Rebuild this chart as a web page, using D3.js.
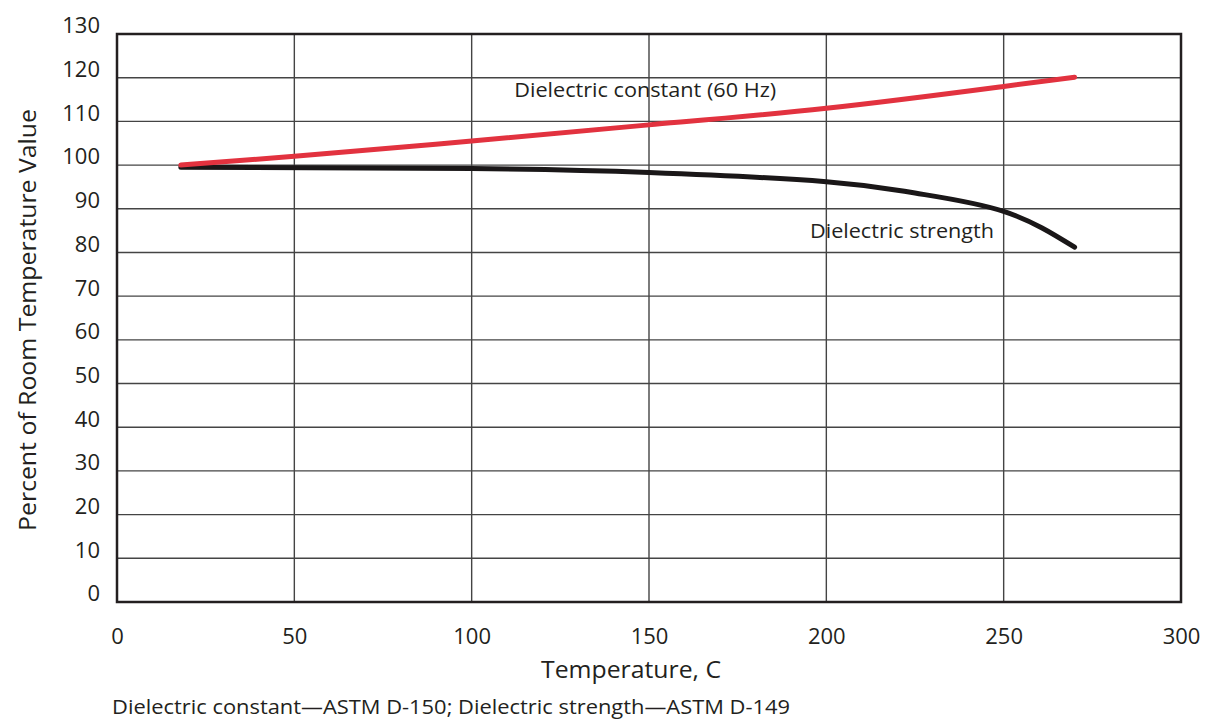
<!DOCTYPE html>
<html>
<head>
<meta charset="utf-8">
<script src="https://cdn.jsdelivr.net/npm/d3@7"></script>
<style>
  body { margin: 0; background: #fff; }
  text { font-family: "Open Sans", "Noto Sans", sans-serif; fill: #231f20; }
</style>
</head>
<body>
<svg id="chart" width="1205" height="720"></svg>
<script>
// temperature (C) vs percent of room temperature value
const constTemp = [18, 50, 100, 150, 200, 250, 270]
const constVal = [100, 102, 105.5, 109.2, 113, 118, 120.1]
const strengthTemp = [18, 100, 150, 200, 225, 250, 270]
const strengthVal = [99.5, 99.2, 98.3, 96.2, 93.6, 89.4, 81.2]
const xTicks = [0, 50, 100, 150, 200, 250, 300]
const yTicks = [0, 10, 20, 30, 40, 50, 60, 70, 80, 90, 100, 110, 120, 130]

const margin = {top: 34, right: 24, bottom: 118, left: 117}
const width = 1205 - margin.left - margin.right
const height = 720 - margin.top - margin.bottom

const svg = d3.select('#chart')
const g = svg.append('g')
    .attr('transform', `translate(${margin.left},${margin.top})`)

const x = d3.scaleLinear().domain([0, 300]).range([0, width])
const y = d3.scaleLinear().domain([0, 130]).range([height, 0])

// grid
g.append('g')
    .selectAll('line')
    .data(xTicks.slice(1, -1))
    .join('line')
        .attr('x1', d => x(d)).attr('x2', d => x(d))
        .attr('y1', 0).attr('y2', height)
        .attr('stroke', '#444').attr('stroke-width', 1.4)

g.append('g')
    .selectAll('line')
    .data(yTicks.slice(1, -1))
    .join('line')
        .attr('y1', d => y(d)).attr('y2', d => y(d))
        .attr('x1', 0).attr('x2', width)
        .attr('stroke', '#444').attr('stroke-width', 1.4)

// frame
g.append('rect')
    .attr('width', width).attr('height', height)
    .attr('fill', 'none').attr('stroke', '#231f20').attr('stroke-width', 2.5)

// tick labels
const xAxis = d3.axisBottom(x).tickValues(xTicks).tickSize(0).tickPadding(26)
g.append('g')
    .attr('transform', `translate(0,${height})`)
    .call(xAxis)
    .call(a => a.select('.domain').remove())
    .selectAll('text')
        .style('font-size', '22px')
        .attr('fill', '#231f20')

const yAxis = d3.axisLeft(y).tickValues(yTicks).tickSize(0).tickPadding(17)
g.append('g')
    .call(yAxis)
    .call(a => a.select('.domain').remove())
    .selectAll('text')
        .style('font-size', '22px')
        .attr('fill', '#231f20')
        .attr('dy', '-0.05em')

// lines
const line = d3.line()
    .x(d => x(d[0]))
    .y(d => y(d[1]))
    .curve(d3.curveNatural)

g.append('path')
    .datum(strengthTemp.map((t, i) => [t, strengthVal[i]]))
    .attr('d', line)
    .attr('fill', 'none')
    .attr('stroke', '#1a1718')
    .attr('stroke-width', 5)
    .attr('stroke-linecap', 'round')

g.append('path')
    .datum(constTemp.map((t, i) => [t, constVal[i]]))
    .attr('d', line)
    .attr('fill', 'none')
    .attr('stroke', '#e2323f')
    .attr('stroke-width', 5)
    .attr('stroke-linecap', 'round')

// series labels
g.append('text')
    .attr('x', x(112))
    .attr('y', y(115.6))
    .attr('textLength', 262)
    .attr('lengthAdjust', 'spacingAndGlyphs')
    .style('font-size', '20px')
    .text('Dielectric constant (60 Hz)')

g.append('text')
    .attr('x', x(195.4))
    .attr('y', y(83.4))
    .attr('textLength', 184)
    .attr('lengthAdjust', 'spacingAndGlyphs')
    .style('font-size', '20px')
    .text('Dielectric strength')

// axis titles
svg.append('text')
    .attr('x', margin.left + x(150) - 18)
    .attr('y', 678)
    .attr('text-anchor', 'middle')
    .attr('textLength', 180)
    .attr('lengthAdjust', 'spacingAndGlyphs')
    .style('font-size', '24px')
    .text('Temperature, C')

svg.append('text')
    .attr('transform', `translate(36,${margin.top + height / 2 + 2}) rotate(-90)`)
    .attr('text-anchor', 'middle')
    .attr('textLength', 422)
    .attr('lengthAdjust', 'spacingAndGlyphs')
    .style('font-size', '24px')
    .text('Percent of Room Temperature Value')

svg.append('text')
    .attr('x', 112)
    .attr('y', 714)
    .attr('textLength', 678)
    .attr('lengthAdjust', 'spacingAndGlyphs')
    .style('font-size', '20px')
    .text('Dielectric constant—ASTM D-150; Dielectric strength—ASTM D-149')
</script>
</body>
</html>
